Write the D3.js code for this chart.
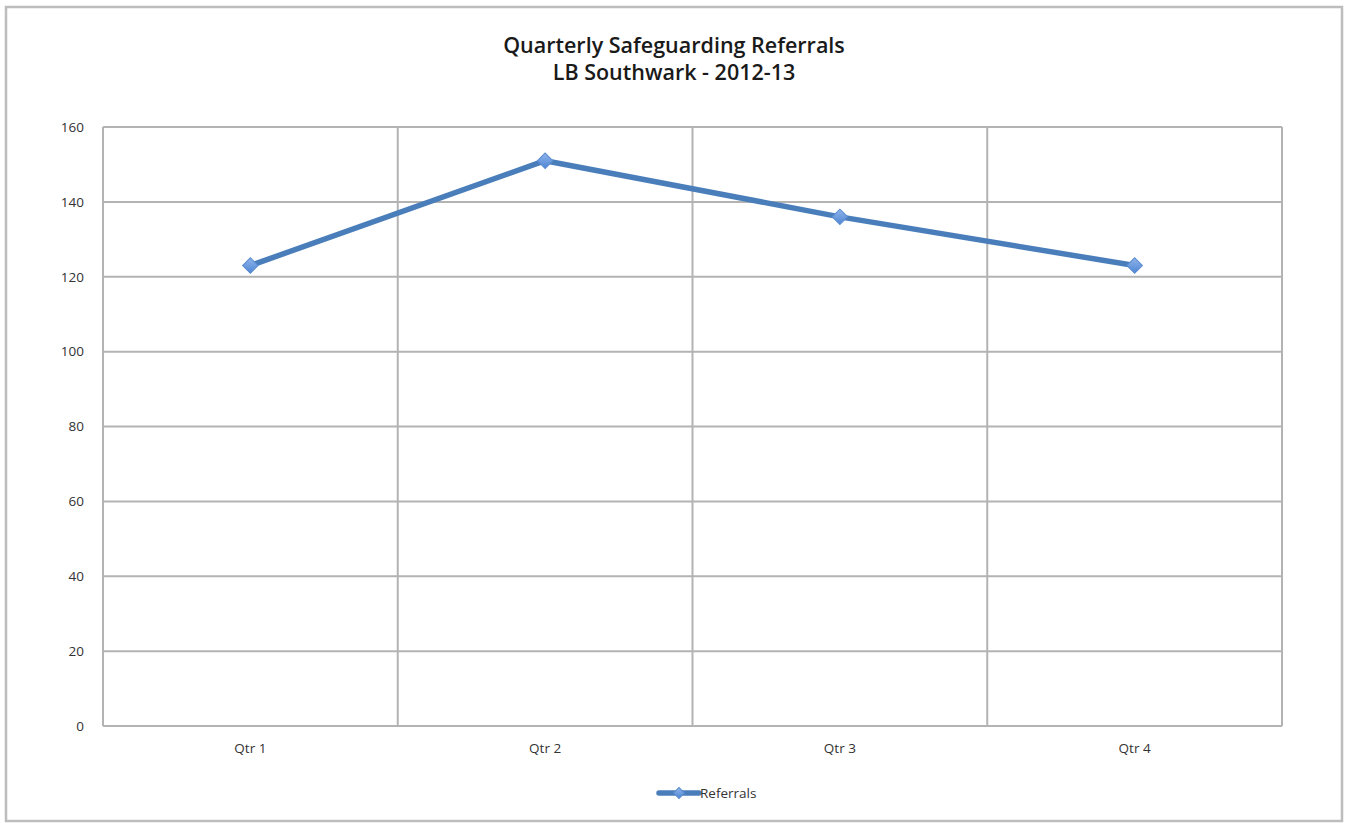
<!DOCTYPE html>
<html>
<head>
<meta charset="utf-8">
<script src="https://cdn.jsdelivr.net/npm/d3@7"></script>
<style>
  html, body { margin: 0; padding: 0; background: #fff; }
  svg { display: block; }
</style>
</head>
<body>
<svg id="chart" width="1348" height="823"></svg>
<script>
// Quarterly referral counts
const quarters = ["Qtr 1", "Qtr 2", "Qtr 3", "Qtr 4"];
const referrals = [123, 151, 136, 123];
const yTicks = [0, 20, 40, 60, 80, 100, 120, 140, 160];
const titleLines = ["Quarterly Safeguarding Referrals", "LB Southwark - 2012-13"];
const seriesName = "Referrals";

const svg = d3.select("#chart");
const plot = { left: 103, right: 1282, top: 127, bottom: 726 };
const lineColor = "#4a7ebb";
const gridColor = "#b3b3b3";
const textFont = "'Open Sans', 'Liberation Sans', sans-serif";

// outer frame
svg.append("rect")
  .attr("x", 6).attr("y", 7)
  .attr("width", 1336).attr("height", 814)
  .attr("fill", "#fff")
  .attr("stroke", "#bdbdbd").attr("stroke-width", 2.5);

// title
const title = svg.append("text")
  .attr("text-anchor", "middle")
  .attr("font-family", textFont)
  .attr("font-weight", 600)
  .attr("font-size", 21.5)
  .attr("fill", "#1a1a1a");
titleLines.forEach((t, i) => {
  title.append("tspan").attr("x", 674).attr("y", 53 + i * 27).text(t);
});

const x = d3.scaleBand().domain(quarters).range([plot.left, plot.right]);
const y = d3.scaleLinear().domain([0, 160]).range([plot.bottom, plot.top]);

// horizontal gridlines
svg.append("g")
  .selectAll("line")
  .data(yTicks)
  .join("line")
  .attr("x1", plot.left).attr("x2", plot.right)
  .attr("y1", d => y(d)).attr("y2", d => y(d))
  .attr("stroke", gridColor).attr("stroke-width", 2);

// vertical gridlines at category boundaries
const bounds = quarters.map(q => x(q)).concat([x(quarters[quarters.length - 1]) + x.bandwidth()]);
svg.append("g")
  .selectAll("line")
  .data(bounds)
  .join("line")
  .attr("x1", d => d).attr("x2", d => d)
  .attr("y1", plot.top).attr("y2", plot.bottom)
  .attr("stroke", gridColor).attr("stroke-width", 2);

// y axis labels
const yAxis = svg.append("g")
  .attr("transform", `translate(${plot.left},0)`)
  .call(d3.axisLeft(y).tickValues(yTicks).tickSize(0).tickPadding(19));
yAxis.select(".domain").remove();
yAxis.selectAll("text")
  .attr("font-family", textFont)
  .attr("font-size", 13.5)
  .attr("fill", "#333");

// x axis labels
const xAxis = svg.append("g")
  .attr("transform", `translate(0,${plot.bottom})`)
  .call(d3.axisBottom(x).tickSize(0).tickPadding(17));
xAxis.select(".domain").remove();
xAxis.selectAll("text")
  .attr("font-family", textFont)
  .attr("font-size", 13.5)
  .attr("fill", "#333");

// series line
const cx = q => x(q) + x.bandwidth() / 2;
const pts = quarters.map((q, i) => [cx(q), y(referrals[i])]);
svg.append("path")
  .attr("d", d3.line()(pts))
  .attr("fill", "none")
  .attr("stroke", lineColor)
  .attr("stroke-width", 5.5)
  .attr("stroke-linejoin", "round");

// diamond markers (square turned 45 degrees)
const defs = svg.append("defs");
const grad = defs.append("linearGradient")
  .attr("id", "markerFill").attr("x1", 0).attr("y1", 0).attr("x2", 1).attr("y2", 1);
grad.append("stop").attr("offset", "0%").attr("stop-color", "#8fb4ea");
grad.append("stop").attr("offset", "100%").attr("stop-color", "#4f86d4");

const square = d3.symbol().type(d3.symbolSquare).size(120);
svg.append("g")
  .selectAll("path")
  .data(pts)
  .join("path")
  .attr("d", square)
  .attr("transform", d => `translate(${d[0]},${d[1]}) rotate(45)`)
  .attr("fill", "url(#markerFill)")
  .attr("stroke", "#5a8bd0")
  .attr("stroke-width", 1);

// legend
const lg = svg.append("g").attr("transform", "translate(659,793)");
lg.append("line")
  .attr("x1", 0).attr("x2", 40).attr("y1", 0).attr("y2", 0)
  .attr("stroke", lineColor).attr("stroke-width", 5.5).attr("stroke-linecap", "round");
lg.append("path")
  .attr("d", d3.symbol().type(d3.symbolSquare).size(60))
  .attr("transform", "translate(20,0) rotate(45)")
  .attr("fill", "url(#markerFill)")
  .attr("stroke", "#5a8bd0").attr("stroke-width", 1);
lg.append("text")
  .attr("x", 41).attr("y", 0).attr("dy", "0.35em")
  .attr("font-family", textFont)
  .attr("font-size", 13.5)
  .attr("fill", "#333")
  .text(seriesName);
</script>
</body>
</html>
